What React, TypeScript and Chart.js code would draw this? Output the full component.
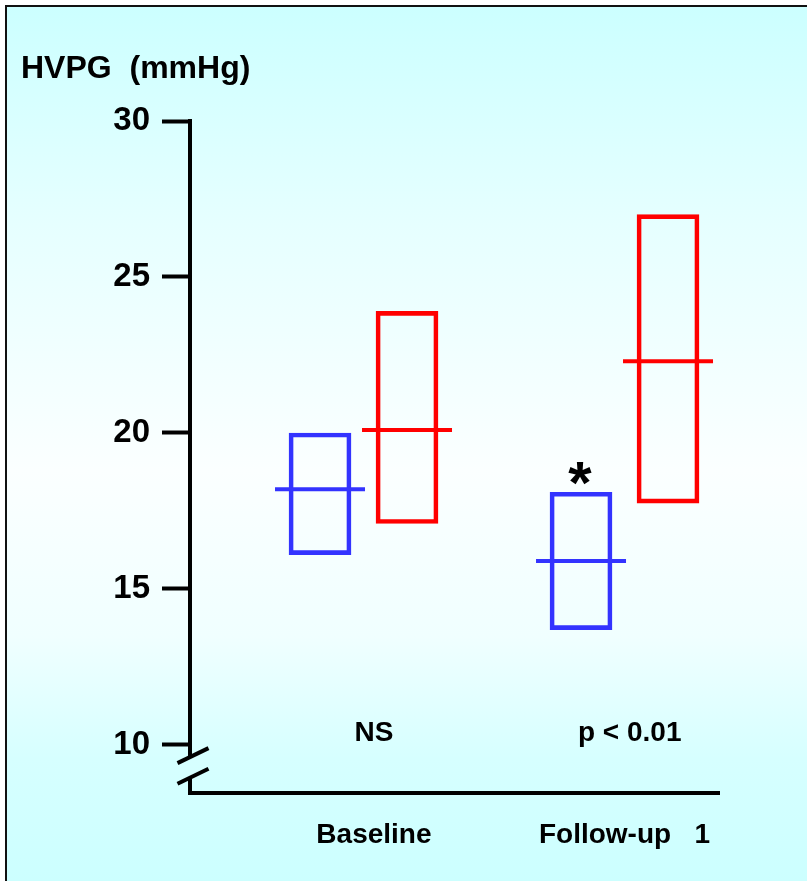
import React, { useEffect, useRef } from 'react';
import { Chart, registerables } from 'chart.js';

Chart.register(...registerables);

// ---------- data ----------
const CATEGORIES = ['Baseline', 'Follow-up   1'];
const CATEGORY_X = [1, 2];
const BLUE_LOW = [16.1, 13.7];
const BLUE_HIGH = [20.0, 18.1];
const BLUE_MEDIAN = [18.2, 15.9];
const RED_LOW = [17.1, 17.75];
const RED_HIGH = [23.9, 27.0];
const RED_MEDIAN = [20.1, 22.3];
const Y_TICKS = [10, 15, 20, 25, 30];
const P_LABELS = ['NS', 'p < 0.01'];
const TITLE = 'HVPG  (mmHg)';

// ---------- layout constants ----------
const FONT = '"Liberation Sans", Arial, sans-serif';
const BLUE = '#3333ff';
const RED = '#ff0000';
const GROUP_OFFSET = 1 / 6;
const X_MIN = 0.3352;
const X_MAX = 2.362;
const Y_MIN = 8.4615;
const Y_MAX = 30;
const LABEL_X = [1.04, 2.0];
const P_LABEL_X = [1.04, 2.02];
const P_LABEL_Y = 10.13;
const BREAK_VALUES = [9.66, 9.0];

const blueBoxes = CATEGORY_X.map((c, i) => ({ x: c - GROUP_OFFSET, y: [BLUE_LOW[i], BLUE_HIGH[i]] }));
const redBoxes = CATEGORY_X.map((c, i) => ({ x: c + GROUP_OFFSET, y: [RED_LOW[i], RED_HIGH[i]] }));
const blueMedians = CATEGORY_X.map((c, i) => ({ x: c - GROUP_OFFSET, y: BLUE_MEDIAN[i] }));
const redMedians = CATEGORY_X.map((c, i) => ({ x: c + GROUP_OFFSET, y: RED_MEDIAN[i] }));

const annotationPlugin = {
  id: 'annotations',
  afterDraw(chart: any) {
    const { ctx, scales } = chart;
    const x = scales.x;
    const y = scales.y;
    ctx.save();
    ctx.fillStyle = '#000';
    // title
    ctx.font = `bold 32px ${FONT}`;
    ctx.textAlign = 'left';
    ctx.textBaseline = 'alphabetic';
    ctx.fillText(TITLE, 14, 71);
    // significance labels
    ctx.font = `bold 28px ${FONT}`;
    ctx.textAlign = 'center';
    P_LABELS.forEach((t, i) => {
      ctx.fillText(t, x.getPixelForValue(P_LABEL_X[i]), y.getPixelForValue(P_LABEL_Y));
    });
    // asterisk above follow-up blue box
    ctx.font = `bold 60px ${FONT}`;
    ctx.fillText('*', x.getPixelForValue(CATEGORY_X[1] - GROUP_OFFSET) - 1, y.getPixelForValue(BLUE_HIGH[1]) + 11);
    // axis break
    const ax = chart.chartArea.left;
    const b1 = y.getPixelForValue(BREAK_VALUES[0]);
    const b2 = y.getPixelForValue(BREAK_VALUES[1]);
    ctx.clearRect(ax - 4, b1 + 1, 8, b2 - b1);
    ctx.strokeStyle = '#000';
    ctx.lineWidth = 4;
    [b1, b2].forEach((b) => {
      ctx.beginPath();
      ctx.moveTo(ax + 3 - 15.5, b + 7.5);
      ctx.lineTo(ax + 3 + 15.5, b - 7.5);
      ctx.stroke();
    });
    ctx.restore();
  },
};

export default function App() {
  const ref = useRef<HTMLCanvasElement>(null);

  useEffect(() => {
    document.body.style.margin = '0';
    document.body.style.overflow = 'hidden';
    const chart = new Chart(ref.current as HTMLCanvasElement, {
      type: 'bar',
      data: {
        datasets: [
          {
            type: 'bar',
            data: blueBoxes as any,
            borderColor: BLUE,
            backgroundColor: 'rgba(0,0,0,0)',
            borderWidth: 4,
            borderSkipped: false,
            barThickness: 62,
            grouped: false,
            order: 2,
          } as any,
          {
            type: 'bar',
            data: redBoxes as any,
            borderColor: RED,
            backgroundColor: 'rgba(0,0,0,0)',
            borderWidth: 4,
            borderSkipped: false,
            barThickness: 62,
            grouped: false,
            order: 2,
          } as any,
          {
            type: 'scatter',
            data: blueMedians as any,
            pointStyle: 'line',
            pointRadius: 45,
            pointHoverRadius: 45,
            borderWidth: 4,
            pointBorderWidth: 4,
            pointBorderColor: BLUE,
            borderColor: BLUE,
            order: 1,
          } as any,
          {
            type: 'scatter',
            data: redMedians as any,
            pointStyle: 'line',
            pointRadius: 45,
            pointHoverRadius: 45,
            borderWidth: 4,
            pointBorderWidth: 4,
            pointBorderColor: RED,
            borderColor: RED,
            order: 1,
          } as any,
        ],
      },
      options: {
        responsive: false,
        maintainAspectRatio: false,
        animation: false,
        devicePixelRatio: 1,
        events: [],
        layout: { padding: { top: 114, left: 0, right: 88, bottom: 0 } },
        plugins: { legend: { display: false }, tooltip: { enabled: false } },
        scales: {
          x: {
            type: 'linear',
            min: X_MIN,
            max: X_MAX,
            offset: false,
            grid: { display: false, drawTicks: false, offset: false },
            border: { display: true, color: '#000', width: 4 },
            afterBuildTicks: (s: any) => {
              s.ticks = LABEL_X.map((v) => ({ value: v }));
            },
            afterFit: (s: any) => {
              s.height = 88;
            },
            ticks: {
              autoSkip: false,
              maxRotation: 0,
              padding: 25,
              color: '#000',
              font: { family: FONT, size: 28, weight: 'bold' },
              callback: (_v: any, i: number) => CATEGORIES[i],
            },
          },
          y: {
            type: 'linear',
            min: Y_MIN,
            max: Y_MAX,
            grid: { display: true, drawOnChartArea: false, drawTicks: true, tickLength: 28, tickColor: '#000', tickWidth: 4 },
            border: { display: true, color: '#000', width: 4 },
            afterBuildTicks: (s: any) => {
              s.ticks = Y_TICKS.map((v) => ({ value: v }));
            },
            afterFit: (s: any) => {
              s.width = 183;
            },
            ticks: {
              padding: 12,
              color: '#000',
              font: { family: FONT, size: 33, weight: 'bold' },
            },
          },
        },
      } as any,
      plugins: [annotationPlugin],
    });
    return () => chart.destroy();
  }, []);

  return (
    <div
      style={{
        position: 'absolute',
        left: 5,
        top: 5,
        width: 802,
        height: 876,
        boxSizing: 'border-box',
        borderTop: '2px solid #111',
        borderLeft: '2px solid #111',
        background: 'linear-gradient(to bottom, #ccffff 0%, #e6ffff 25%, #fbffff 53%, #f0ffff 72%, #d6ffff 86%, #ccffff 100%)',
      }}
    >
      <canvas ref={ref} width={800} height={874} style={{ display: 'block', width: 800, height: 874 }} />
    </div>
  );
}
